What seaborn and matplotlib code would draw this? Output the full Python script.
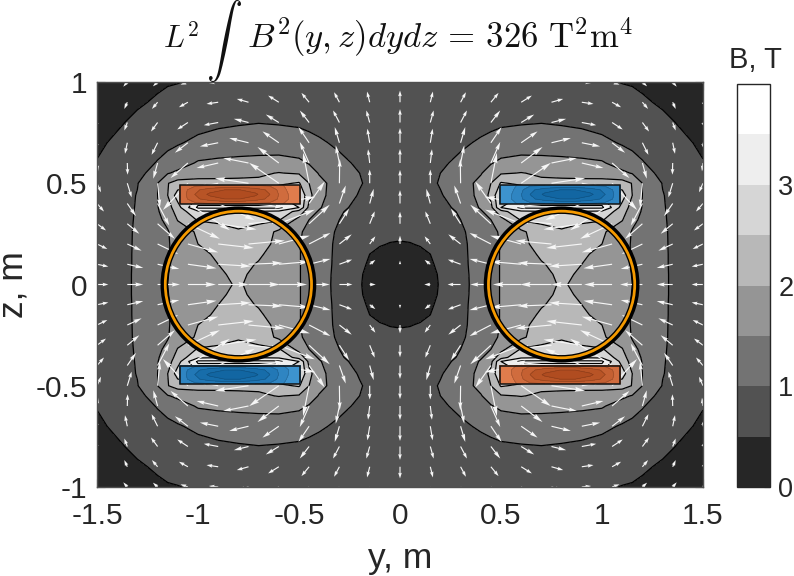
import numpy as np
import matplotlib
matplotlib.use("Agg")
import matplotlib.pyplot as plt
from matplotlib.colors import ListedColormap, BoundaryNorm
from matplotlib.patches import Circle, Rectangle
import seaborn as sns

# ---- data (one quadrant: y<=0, z>=0; field is mirrored) ----
grid_y = [-1.5,-1.4,-1.3,-1.2,-1.15,-1.1,-1.0,-.9,-.8,-.7,-.6,-.5,-.45,-.4,-.3,-.2,-.15,-.1,-.05,0]
grid_z = [0,.05,.1,.15,.2,.26,.32,.36,.38,.44,.5,.55,.6,.7,.8,.9,1.0]
B_table = [
 [.72,.88,1.05,1.33,1.5,1.6,1.8,1.93,2.03,1.9,1.72,1.52,1.38,1.2,.85,.53,.39,.26,.13,0],
 [.72,.88,1.05,1.33,1.49,1.6,1.8,1.96,2.06,1.92,1.73,1.52,1.38,1.2,.86,.54,.41,.29,.19,.12],
 [.71,.87,1.05,1.32,1.47,1.6,1.82,2.0,2.12,1.97,1.75,1.52,1.38,1.2,.88,.57,.46,.36,.28,.24],
 [.70,.87,1.05,1.32,1.47,1.61,1.9,2.06,2.16,2.06,1.82,1.52,1.38,1.2,.89,.6,.5,.44,.38,.36],
 [.69,.86,1.05,1.33,1.47,1.62,2.0,2.12,2.2,2.15,1.9,1.52,1.38,1.2,.9,.64,.56,.52,.49,.48],
 [.67,.85,1.05,1.34,1.47,1.72,2.07,2.25,2.45,2.3,1.9,1.55,1.4,1.22,.93,.68,.62,.59,.57,.56],
 [.65,.84,1.04,1.42,1.6,2.03,2.55,2.62,2.66,2.62,2.55,1.85,1.5,1.28,1.0,.75,.69,.66,.65,.64],
 [.64,.83,1.035,1.46,1.72,2.2,2.9,2.95,2.98,2.95,2.9,2.3,1.7,1.45,1.05,.83,.76,.72,.7,.7],
 [.63,.82,1.03,1.48,1.8,2.3,3.6,3.6,3.6,3.6,3.6,3.0,1.85,1.55,1.1,.88,.79,.74,.72,.72],
 [.6,.79,1.02,1.5,2.0,2.75,3.0,3.0,3.0,3.0,3.0,3.0,2.15,1.65,1.2,.97,.88,.82,.79,.78],
 [.57,.75,.98,1.5,1.98,2.2,2.12,2.1,2.1,2.1,2.4,2.55,2.0,1.62,1.3,1.03,.93,.85,.81,.8],
 [.54,.7,.9,1.15,1.47,1.6,1.85,1.88,1.9,1.93,2.02,1.95,1.7,1.47,1.2,1.0,.92,.85,.81,.8],
 [.51,.63,.8,1.03,1.15,1.28,1.55,1.6,1.63,1.66,1.68,1.6,1.47,1.35,1.1,.93,.86,.8,.76,.75],
 [.46,.54,.68,.83,.9,.96,1.1,1.18,1.22,1.23,1.22,1.18,1.12,1.06,.92,.8,.76,.72,.69,.68],
 [.41,.47,.55,.66,.71,.76,.85,.92,.96,.99,.97,.94,.9,.85,.77,.7,.67,.65,.63,.62],
 [.37,.41,.47,.53,.57,.61,.67,.72,.76,.78,.78,.76,.74,.72,.68,.63,.61,.6,.59,.58],
 [.33,.37,.42,.46,.48,.49,.54,.6,.63,.65,.65,.65,.64,.63,.6,.57,.56,.55,.54,.54],
]
levels = [0,.5,1,1.5,2,2.5,3,3.5,4]
band_colors = ["#262626","#525252","#737373","#959595","#b8b8b8","#d6d6d6","#eeeeee","#ffffff"]

arrow_y = [-1.5,-1.35,-1.2,-1.05,-.9,-.75,-.6,-.45,-.3,-.15,0]
arrow_z = [0,.1,.2,.3,.4,.5,.6,.7,.8,.9,1.0]
By_table = [
 [34,48,67,84,92,94,85,62,39,18,0],
 [34,48,65,86,98,102,93,64,38,17,0],
 [31,43,62,91,107,109,93,64,37,17,0],
 [27,36,52,96,115,100,108,62,29,15,0],
 [21,26,35,126,110,110,110,47,19,12,0],
 [12,13,7,-75,-60,-101,-89,-18,1,0,0],
 [3,1,-13,-52,-65,-76,-64,-28,-11,-5,0],
 [-3,-7,-18,-39,-55,-58,-49,-32,-14,-7,0],
 [-5,-9,-20,-32,-43,-44,-39,-28,-19,-10,0],
 [-6,-9,-17,-27,-35,-35,-32,-23,-16,-8,0],
 [-8,-12,-14,-22,-28,-30,-26,-18,-12,-6,0],
]
Bz_table = [
 [0,0,0,0,0,0,0,0,0,0,0],
 [-7,-11,-14,-12,-6,4,8,16,14,13,11],
 [-15,-20,-30,-25,-12,10,25,33,29,23,25],
 [-20,-30,-45,-45,-17,10,42,57,45,37,36],
 [-24,-38,-66,-80,-50,-10,20,66,54,44,40],
 [-27,-42,-72,-80,-12,15,61,91,73,41,40],
 [-25,-35,-47,-45,-15,15,48,63,53,41,42],
 [-20,-33,-36,-30,-11,14,34,47,47,42,44],
 [-15,-24,-27,-21,-8,11,24,36,36,36,40],
 [-12,-20,-20,-15,-5,10,20,28,30,32,35],
 [-9,-14,-13,-8,-3,8,15,22,25,28,30],
]
arrow_scale = 606.0

coil_left, coil_right = -1.09, -0.495
coil_low, coil_high = 0.40, 0.49
coil_table = [
 [.30,.35,.40,.42,.42,.40,.36,.18,.05],
 [.25,.55,.70,.80,.80,.70,.55,.25,.05],
 [.25,.60,.85,1.0,1.0,.85,.60,.25,.02],
 [.25,.55,.70,.80,.80,.70,.55,.22,.02],
 [.30,.35,.40,.42,.42,.40,.36,.18,.05],
]
red_shades = ["#e07c4c","#d06c3e","#c46032","#b85426","#b04c20"]
blue_shades = ["#3d93cf","#2f85c2","#2278b6","#176daa","#1266a2"]
ring_centers = [-0.8, 0.8]
y_ticks = [-1.5,-1,-.5,0,.5,1,1.5]
y_labels = ["-1.5","-1","-0.5","0","0.5","1","1.5"]
z_ticks = [-1,-.5,0,.5,1]
z_labels = ["-1","-0.5","0","0.5","1"]

# ---- build ----
sns.set_theme(style="ticks")
plt.rcParams["font.family"] = ["Liberation Sans", "DejaVu Sans"]
plt.rcParams["mathtext.fontset"] = "cm"
W, H = 794, 576
fig = plt.figure(figsize=(W/100, H/100), dpi=100)
ax = fig.add_axes([97/W, 1-487/H, 606/W, 405/H])
cax = fig.add_axes([737/W, 1-487/H, 33/W, 403/H])

Yq = np.array(grid_y); Zq = np.array(grid_z); Bq = np.array(B_table)
Y = np.r_[Yq, -Yq[-2::-1]]
Z = np.r_[-Zq[:0:-1], Zq]
top = np.hstack([Bq, Bq[:, -2::-1]])
F = np.vstack([top[:0:-1], top])
cmap = ListedColormap(sns.color_palette(band_colors))
norm = BoundaryNorm(levels, cmap.N)
cf = ax.contourf(Y, Z, F, levels=levels, cmap=cmap, norm=norm, zorder=1)
ax.contour(Y, Z, F, levels=levels[1:-1], colors="black", linewidths=0.9, zorder=2)

ya = np.array(arrow_y); za = np.array(arrow_z)
U0 = np.array(By_table, float); V0 = np.array(Bz_table, float)
YA = np.r_[ya, -ya[-2::-1]]
ZA = np.r_[-za[:0:-1], za]
Ut = np.hstack([U0, -U0[:, -2::-1]])
Vt = np.hstack([V0, V0[:, -2::-1]])
U = np.vstack([Ut[:0:-1], Ut])
V = np.vstack([-Vt[:0:-1], Vt])
XX, ZZ = np.meshgrid(YA, ZA)
L = np.hypot(U, V)
for lo, hi, hw, hl in [(0, 45, 3.2, 5), (45, 80, 3.6, 7), (80, 1e9, 4.4, 9)]:
    m = (L >= lo) & (L < hi)
    ax.quiver(XX[m], ZZ[m], U[m], V[m], angles="xy", scale_units="xy", scale=arrow_scale,
              color="#f6f6f6", units="dots", width=1.15, headwidth=hw, headlength=hl,
              headaxislength=hl*.9, minlength=0, zorder=3)

ct = np.array(coil_table)
cx = np.linspace(coil_left, coil_right, ct.shape[1])
cz = np.linspace(coil_low, coil_high, ct.shape[0])
for sy, sz, shades in [(1,1,red_shades),(-1,1,blue_shades),(1,-1,blue_shades),(-1,-1,red_shades)]:
    xs = sy*cx; zs = sz*cz
    if sy < 0:
        xs = xs[::-1]; vals = ct[:, ::-1]
    else:
        vals = ct
    if sz < 0:
        zs = zs[::-1]; vals = vals[::-1]
    ax.contourf(xs, zs, vals, levels=[-1,.2,.4,.6,.8,1.2], colors=shades, zorder=4)
    ax.contour(xs, zs, vals, levels=[.2,.4,.6,.8], colors=["#00000033"], linewidths=.5, zorder=4.1)
    ax.add_patch(Rectangle((min(xs), min(zs)), max(xs)-min(xs), max(zs)-min(zs), fill=False,
                           ec="#111111", lw=1.1, zorder=4.2))

for c in ring_centers:
    ax.add_patch(Circle((c, 0), 0.367, fill=False, ec="black", lw=5.4, zorder=5))
    ax.add_patch(Circle((c, 0), 0.362, fill=False, ec="#f59a00", lw=2.0, zorder=5.1))

ax.set_xlim(-1.5, 1.5); ax.set_ylim(-1, 1)
ax.set_xticks(y_ticks); ax.set_xticklabels(y_labels)
ax.set_yticks(z_ticks); ax.set_yticklabels(z_labels)
ax.tick_params(direction="in", length=6, width=.8, color="#404040", labelsize=21.5,
               labelcolor="#262626", top=True, right=True, zorder=6)
ax.tick_params(axis="x", pad=11)
ax.tick_params(axis="y", pad=7)
sns.despine(ax=ax, top=False, right=False)
for s in ax.spines.values():
    s.set_edgecolor("#505050"); s.set_linewidth(1.0); s.set_zorder(7)
ax.set_xlabel("y, m", fontsize=25.5, color="#262626", va="baseline")
ax.xaxis.set_label_coords(0.5, -(568-487)/405)
ax.set_ylabel("z, m", fontsize=25.5, color="#262626")
ax.yaxis.set_label_coords((30-97)/606, 0.5)

cb = fig.colorbar(cf, cax=cax, ticks=[0,1,2,3], drawedges=False, spacing="proportional")
cb.ax.minorticks_off()
cb.ax.set_yticklabels(["0","1","2","3"])
cb.ax.tick_params(direction="in", length=4, width=.8, color="#262626", labelsize=19.5,
                  labelcolor="#262626", right=True, left=False, pad=6)
cb.outline.set_edgecolor("#262626"); cb.outline.set_linewidth(1.0)

def px(x, y):
    return x/W, 1-y/H
fig.text(*px(755, 68), "B, T", fontsize=21, color="#262626", ha="center", va="baseline")
fig.text(*px(163, 48), r"$L^2$", fontsize=22, ha="left", va="baseline", color="#111111")
fig.text(*px(206, 53), r"$\int$", fontsize=26, ha="left", va="baseline", color="#111111")
fig.text(*px(247, 48), r"$B^2(y,z)dydz\,=\,326\ \mathrm{T}^2\mathrm{m}^4$", fontsize=25,
         ha="left", va="baseline", color="#111111")
fig.savefig("out.png", dpi=100)
